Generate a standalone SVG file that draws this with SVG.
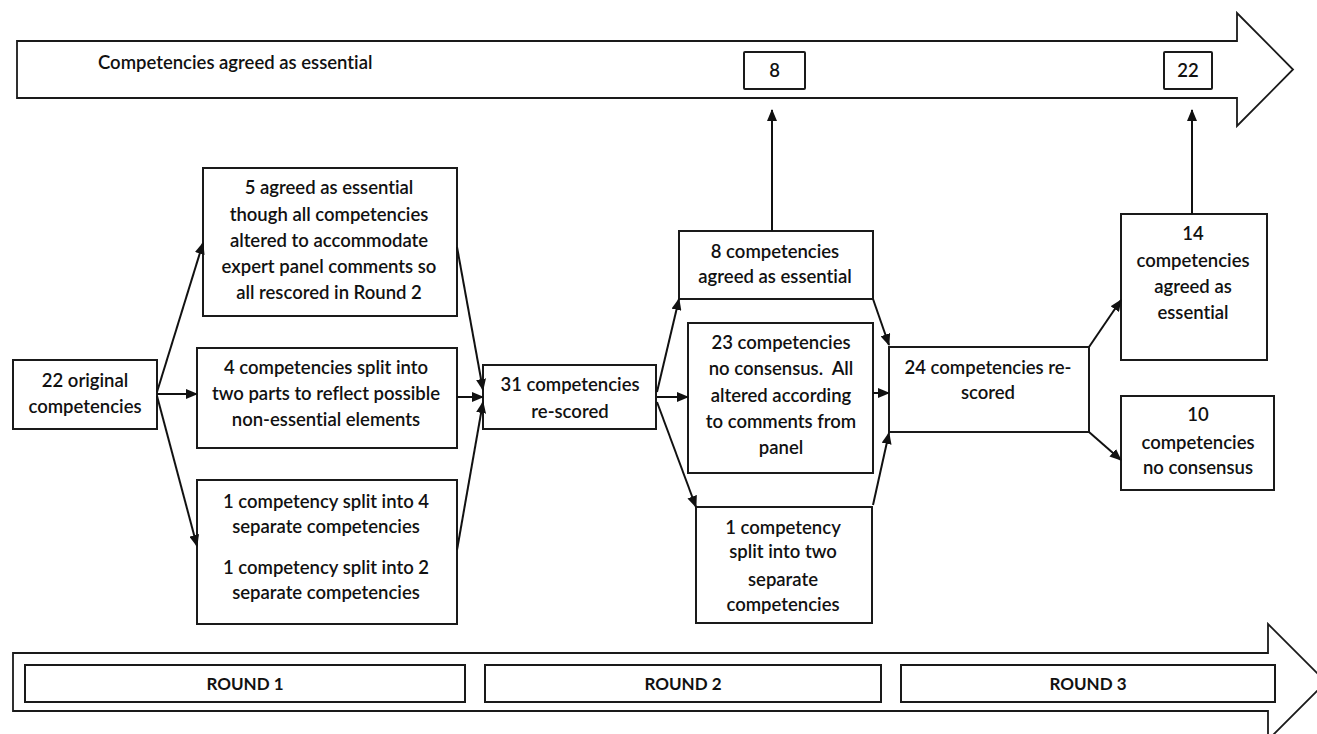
<svg xmlns="http://www.w3.org/2000/svg" width="1317" height="734" viewBox="0 0 1317 734">
<style>
.box{fill:#fff;stroke:#1a1a1a;stroke-width:2}
.big{fill:#fff;stroke:#1a1a1a;stroke-width:1.8;stroke-linejoin:miter}
.t{font-family:Lato,"Liberation Sans",sans-serif;font-weight:600;font-size:18.5px;fill:#111;text-anchor:middle;font-variant-ligatures:none}
.r{font-family:Lato,"Liberation Sans",sans-serif;font-weight:700;font-size:17px;fill:#111;text-anchor:middle}
.c{stroke:#111;stroke-width:2;fill:none;marker-end:url(#ah)}
</style>
<defs>
<marker id="ah" markerUnits="userSpaceOnUse" markerWidth="12" markerHeight="10" refX="11" refY="5" orient="auto">
<path d="M0,0 L12,5 L0,10 Z" fill="#111"/>
</marker>
</defs>
<rect width="1317" height="734" fill="#fff"/>

<g id="top-arrow">
<path class="big" d="M17,41 H1237 V13 L1293,69.5 L1237,126 V98 H17 Z"/>
<text class="t" x="98" y="69" style="text-anchor:start">Competencies agreed as essential</text>
</g>
<g id="count-8">
<rect class="box" x="744" y="52" width="61" height="37" rx="1"/>
<text class="t" x="774.5" y="77">8</text>
</g>
<g id="count-22">
<rect class="box" x="1164" y="52" width="48" height="37" rx="1"/>
<text class="t" x="1188" y="77">22</text>
</g>

<g id="original">
<rect class="box" x="13" y="360" width="144" height="69"/>
<text class="t" x="85" y="387">22 original</text>
<text class="t" x="85" y="413">competencies</text>
</g>
<g id="r1-agreed">
<rect class="box" x="203" y="168" width="254" height="148"/>
<text class="t" x="329" y="194">5 agreed as essential</text>
<text class="t" x="329" y="221">though all competencies</text>
<text class="t" x="329" y="247">altered to accommodate</text>
<text class="t" x="329" y="273">expert panel comments so</text>
<text class="t" x="329" y="299">all rescored in Round 2</text>
</g>
<g id="r1-split4">
<rect class="box" x="197" y="348" width="260" height="100"/>
<text class="t" x="326" y="374">4 competencies split into</text>
<text class="t" x="326" y="400">two parts to reflect possible</text>
<text class="t" x="326" y="426">non-essential elements</text>
</g>
<g id="r1-splitone">
<rect class="box" x="197" y="480" width="260" height="144"/>
<text class="t" x="326" y="508">1 competency split into 4</text>
<text class="t" x="326" y="533">separate competencies</text>
<text class="t" x="326" y="574">1 competency split into 2</text>
<text class="t" x="326" y="599">separate competencies</text>
</g>
<g id="rescored-31">
<rect class="box" x="483" y="365" width="173" height="64"/>
<text class="t" x="570" y="391">31 competencies</text>
<text class="t" x="570" y="418">re-scored</text>
</g>
<g id="r2-agreed">
<rect class="box" x="679" y="231" width="194" height="68"/>
<text class="t" x="775" y="258">8 competencies</text>
<text class="t" x="775" y="283">agreed as essential</text>
</g>
<g id="r2-noconsensus">
<rect class="box" x="688" y="323" width="185" height="150"/>
<text class="t" x="781" y="349">23 competencies</text>
<text class="t" x="781" y="375">no consensus.&#160; All</text>
<text class="t" x="781" y="402">altered according</text>
<text class="t" x="781" y="428">to comments from</text>
<text class="t" x="781" y="454">panel</text>
</g>
<g id="r2-split">
<rect class="box" x="696" y="507" width="176" height="116"/>
<text class="t" x="783" y="534">1 competency</text>
<text class="t" x="783" y="558">split into two</text>
<text class="t" x="783" y="586">separate</text>
<text class="t" x="783" y="611">competencies</text>
</g>
<g id="rescored-24">
<rect class="box" x="889" y="347" width="200" height="85"/>
<text class="t" x="988" y="374">24 competencies re-</text>
<text class="t" x="988" y="399">scored</text>
</g>
<g id="r3-agreed">
<rect class="box" x="1121" y="214" width="146" height="146"/>
<text class="t" x="1193" y="240">14</text>
<text class="t" x="1193" y="267">competencies</text>
<text class="t" x="1193" y="293">agreed as</text>
<text class="t" x="1193" y="319">essential</text>
</g>
<g id="r3-noconsensus">
<rect class="box" x="1121" y="396" width="153" height="94"/>
<text class="t" x="1198" y="421">10</text>
<text class="t" x="1198" y="449">competencies</text>
<text class="t" x="1198" y="474">no consensus</text>
</g>

<g id="bottom-arrow">
<path class="big" d="M13,653 H1268 V624 L1326,682 L1268,740 V711 H13 Z"/>
</g>
<g id="round1">
<rect class="box" x="25" y="665" width="440" height="37"/>
<text class="r" x="245" y="690">ROUND 1</text>
</g>
<g id="round2">
<rect class="box" x="485" y="665" width="396" height="37"/>
<text class="r" x="683" y="690">ROUND 2</text>
</g>
<g id="round3">
<rect class="box" x="901" y="665" width="374" height="37"/>
<text class="r" x="1088" y="690">ROUND 3</text>
</g>

<g id="connectors">
<line class="c" x1="157" y1="392" x2="203" y2="243"/>
<line class="c" x1="157" y1="394" x2="197" y2="394"/>
<line class="c" x1="157" y1="396" x2="197" y2="546"/>
<line class="c" x1="457" y1="247" x2="483" y2="390"/>
<line class="c" x1="457" y1="397" x2="483" y2="397"/>
<line class="c" x1="457" y1="550" x2="483" y2="402"/>
<line class="c" x1="657" y1="392" x2="679" y2="299"/>
<line class="c" x1="657" y1="397" x2="688" y2="397"/>
<line class="c" x1="657" y1="402" x2="696" y2="507"/>
<line class="c" x1="873" y1="299" x2="889" y2="345"/>
<line class="c" x1="873" y1="393" x2="889" y2="393"/>
<line class="c" x1="873" y1="505" x2="889" y2="433"/>
<line class="c" x1="1089" y1="347" x2="1121" y2="300"/>
<line class="c" x1="1089" y1="432" x2="1121" y2="460"/>
<line class="c" x1="772" y1="231" x2="772" y2="110"/>
<line class="c" x1="1192" y1="214" x2="1192" y2="110"/>
</g>
</svg>
